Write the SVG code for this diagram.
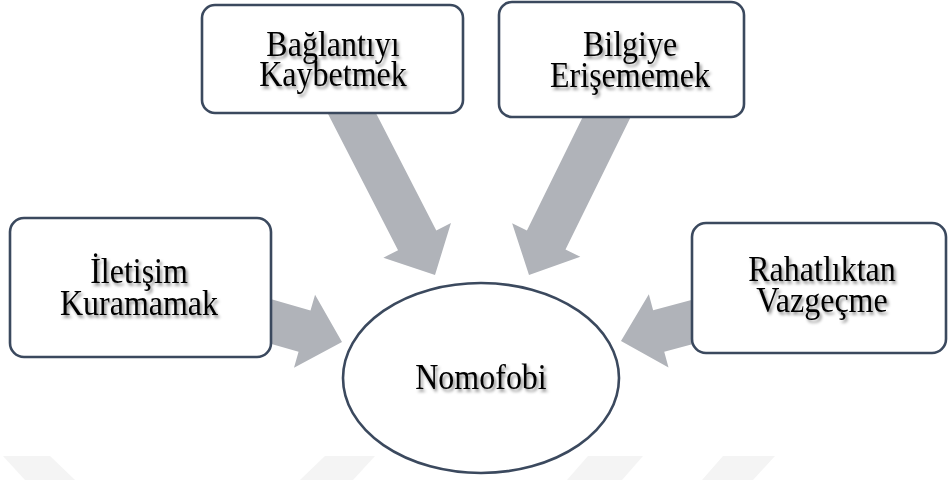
<svg xmlns="http://www.w3.org/2000/svg" width="948" height="480" viewBox="0 0 948 480">
  <defs>
    <filter id="txtShadow" x="-10%" y="-20%" width="130%" height="160%">
      <feDropShadow dx="2" dy="2.5" stdDeviation="1.6" flood-color="#000" flood-opacity="0.45"/>
    </filter>
    <!-- block arrow pointing along +x, tip at origin -->
    <polygon id="arrowLong" points="-200,-21.5 -39,-21.5 -39,-38 0,0 -39,38 -39,21.5 -200,21.5"/>
    <polygon id="arrowShort" points="-95,-21.5 -39,-21.5 -39,-38 0,0 -39,38 -39,21.5 -95,21.5"/>
  </defs>
  <style>
    .box { fill: #ffffff; stroke: #3b495e; stroke-width: 2.6; }
    .arrow { fill: #b0b3b9; }
    .lbl { font-family: "Liberation Serif", "Times New Roman", serif; font-size: 32px; fill: #000; text-anchor: middle; filter: url(#txtShadow); }
    .mark { fill: #f4f4f4; }
  </style>
  <rect width="948" height="480" fill="#ffffff"/>

  <!-- faint background mark -->
  <g id="backdrop">
    <polygon class="mark" points="3,456 50,456 75,480 25,480"/>
    <polygon class="mark" points="325,456 375,456 353,480 300,480"/>
    <polygon class="mark" points="588,456 643,456 622,480 567,480"/>
    <polygon class="mark" points="723,456 775,456 753,480 702,480"/>
  </g>

  <!-- connectors: block arrows into the centre -->
  <g id="connectors">
    <use href="#arrowLong" class="arrow" transform="translate(435,275) rotate(62.8)"/>
    <use href="#arrowLong" class="arrow" transform="translate(529,275) rotate(116.2)"/>
    <use href="#arrowShort" class="arrow" transform="translate(342,342) rotate(16.1)"/>
    <use href="#arrowShort" class="arrow" transform="translate(621,341) rotate(165)"/>
  </g>

  <!-- labels are set slightly tall: scale(1,1.1) about each baseline -->
  <g id="node-baglanti">
    <rect class="box" x="202" y="5" width="261" height="108" rx="13"/>
    <text class="lbl" transform="translate(333,56) scale(1,1.1)">Bağlantıyı</text>
    <text class="lbl" transform="translate(333,86) scale(1,1.1)">Kaybetmek</text>
  </g>

  <g id="node-bilgi">
    <rect class="box" x="499" y="2" width="245" height="115" rx="13"/>
    <text class="lbl" transform="translate(630,56) scale(1,1.1)">Bilgiye</text>
    <text class="lbl" transform="translate(630,87) scale(1,1.1)">Erişememek</text>
  </g>

  <g id="node-iletisim">
    <rect class="box" x="10" y="218" width="261" height="139" rx="14"/>
    <text class="lbl" transform="translate(139,283) scale(1,1.1)">İletişim</text>
    <text class="lbl" transform="translate(139,315) scale(1,1.1)">Kuramamak</text>
  </g>

  <g id="node-rahatlik">
    <rect class="box" x="692" y="223" width="254" height="130" rx="14"/>
    <text class="lbl" transform="translate(822,281) scale(1,1.1)">Rahatlıktan</text>
    <text class="lbl" transform="translate(822,312) scale(1,1.1)">Vazgeçme</text>
  </g>

  <g id="node-nomofobi">
    <ellipse class="box" cx="481" cy="378" rx="138" ry="95"/>
    <text class="lbl" transform="translate(481,389) scale(1,1.1)">Nomofobi</text>
  </g>
</svg>
